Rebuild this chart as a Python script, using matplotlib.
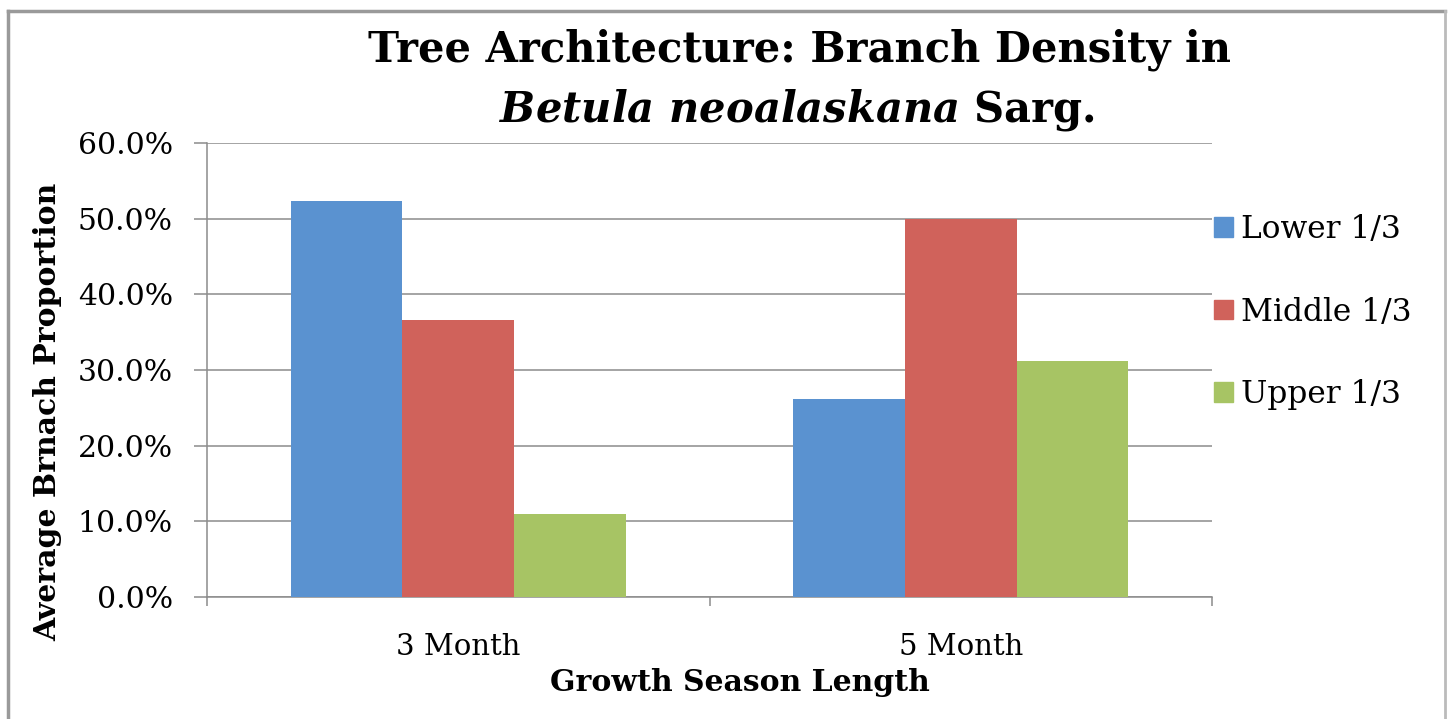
import matplotlib
matplotlib.use('Agg')
import matplotlib.pyplot as plt
import matplotlib.patches as mpatches
import numpy as np
from matplotlib.ticker import FuncFormatter

# ============================================================
# DATA
# ============================================================
CATEGORIES = ["3 Month", "5 Month"]
SERIES     = ["Lower 1/3", "Middle 1/3", "Upper 1/3"]
LOWER      = [0.523, 0.262]
MIDDLE     = [0.366, 0.500]
UPPER      = [0.110, 0.312]
COLORS     = ["#5a92d0", "#d0625b", "#a7c464"]

GRID = "#8c8c8c"
plt.rcParams['font.family'] = ['DejaVu Serif']
plt.rcParams['mathtext.fontset'] = 'custom'
plt.rcParams['mathtext.it'] = 'DejaVu Serif:bold:italic'
plt.rcParams['mathtext.rm'] = 'DejaVu Serif:bold'

fig = plt.figure(figsize=(14.48, 7.19), dpi=100)
ax = fig.add_axes([207/1448, 1 - 597/719, (1212 - 207)/1448, (597 - 143)/719])

x = np.arange(len(CATEGORIES))
w = 1 / 4.5
for i, (vals, name, col) in enumerate(zip([LOWER, MIDDLE, UPPER], SERIES, COLORS)):
    ax.bar(x + (i - 1) * w, vals, width=w, color=col, label=name, zorder=3)

ax.set_xlim(-0.5, 1.5)
ax.set_ylim(0, 0.6)
ax.set_yticks(np.arange(0, 0.61, 0.1))
ax.yaxis.set_major_formatter(FuncFormatter(lambda v, p: f"{v*100:.1f}%"))
ax.set_xticks(x)
ax.set_xticklabels(CATEGORIES)
ax.set_xticks([-0.5, 0.5, 1.5], minor=True)
ax.tick_params(axis='x', which='major', length=0, pad=26, labelsize=21)
ax.tick_params(axis='x', which='minor', length=6.5, width=1.1, color=GRID)
ax.tick_params(axis='y', length=9.5, width=1.1, color=GRID, labelsize=21.5, pad=15)

ax.grid(True, axis='y', color=GRID, linewidth=1.1, zorder=0)
for s in ["top", "right"]:
    ax.spines[s].set_visible(False)
for s in ["left", "bottom"]:
    ax.spines[s].set_color(GRID)
    ax.spines[s].set_linewidth(1.1)

ax.set_xlabel("Growth Season Length", fontsize=21.5, fontweight="bold")
ax.xaxis.set_label_coords((740 - 207) / 1005, -(668 - 597) / 454)
ax.set_ylabel("Average Brnach Proportion", fontsize=21.5, fontweight="bold")
ax.yaxis.set_label_coords(-(207 - 62) / 1005, (597 - 412) / 454)

fig.text(800/1448, 1 - 50/719, "Tree Architecture: Branch Density in", ha="center", va="center",
         fontsize=30, fontweight="bold")
fig.text(797/1448, 1 - 110/719, r"$\mathit{Betula\ neoalaskana}$" + " Sarg.", ha="center", va="center",
         fontsize=30, fontweight="bold")

handles = [mpatches.Patch(color=c, label=n) for c, n in zip(COLORS, SERIES)]
fig.legend(handles=handles, loc="center left", bbox_to_anchor=(1186/1448, 1 - 312/719),
           frameon=False, fontsize=22.5, handlelength=0.6, handleheight=0.6,
           handletextpad=0.25, labelspacing=1.65)

# chart frame
fig.add_artist(plt.Line2D([8/1448, 8/1448], [0, 1 - 11/719], color="#9a9a9a", lw=2.5, transform=fig.transFigure))
fig.add_artist(plt.Line2D([8/1448, 1445/1448], [1 - 11/719, 1 - 11/719], color="#9a9a9a", lw=2.5, transform=fig.transFigure))
fig.add_artist(plt.Line2D([1445/1448, 1445/1448], [0, 1 - 11/719], color="#bbbbbb", lw=2, transform=fig.transFigure))

fig.savefig("out.png", dpi=100)
